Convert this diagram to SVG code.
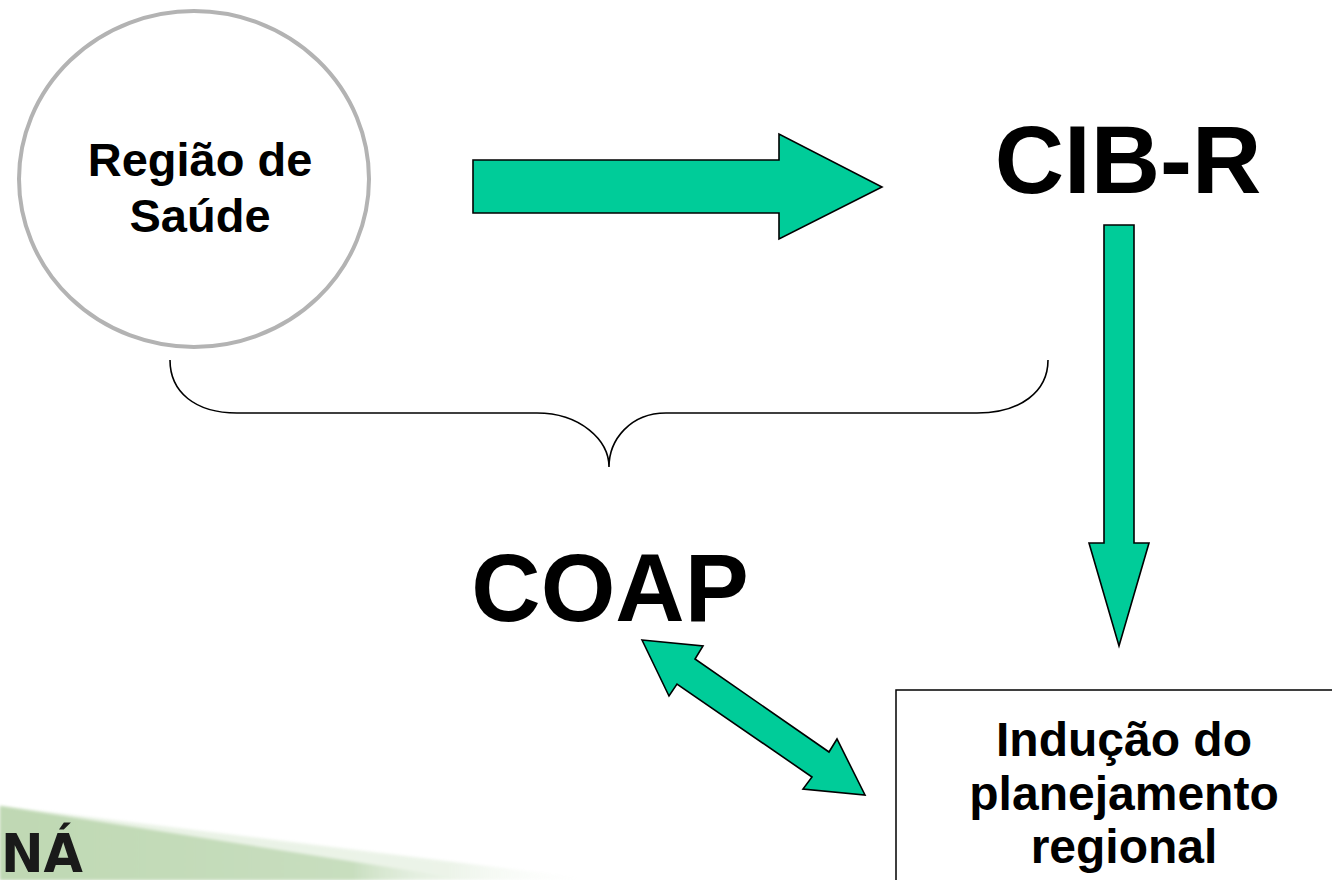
<svg xmlns="http://www.w3.org/2000/svg" width="1332" height="880" viewBox="0 0 1332 880">
<defs>
<style>
.arrow{fill:#00cc99;stroke:#000;stroke-width:1.6;stroke-linejoin:miter}
.t{font-family:"Liberation Sans",Arial,sans-serif;font-weight:bold;fill:#000;text-anchor:middle}
</style>
<linearGradient id="band" x1="0" y1="0" x2="1" y2="0">
<stop offset="0" stop-color="#bfd8b3"/>
<stop offset="0.75" stop-color="#c9dfc0"/>
<stop offset="1" stop-color="#ffffff" stop-opacity="0"/>
</linearGradient>
<filter id="soft" x="-5%" y="-20%" width="110%" height="140%"><feGaussianBlur stdDeviation="1.5"/></filter>
</defs>
<rect width="1332" height="880" fill="#fff"/>
<g id="logo">
<polygon points="0,806 470,880 0,880" fill="url(#band)" filter="url(#soft)"/>
<polygon points="0,806 600,880 0,880" fill="url(#band)" opacity="0.35" filter="url(#soft)"/>
<text x="1" y="872" font-family="'DejaVu Sans Condensed','Liberation Sans',sans-serif" font-weight="bold" font-size="53" textLength="82" lengthAdjust="spacingAndGlyphs" fill="#1a1a1a">NÁ</text>
</g>
<g id="regiao">
<ellipse cx="194" cy="179" rx="175" ry="168" fill="#fff" stroke="#b3b3b3" stroke-width="4"/>
<text class="t" x="200" y="176" font-size="47">Região de</text>
<text class="t" x="200" y="232" font-size="47">Saúde</text>
</g>
<g id="cibr">
<text class="t" x="1128" y="193" font-size="96">CIB-R</text>
</g>
<g id="coap">
<text class="t" x="610" y="621" font-size="96">COAP</text>
</g>
<g id="inducao">
<rect x="896" y="690" width="500" height="250" fill="#fff" stroke="#000" stroke-width="1.5"/>
<text class="t" x="1124" y="756" font-size="48">Indução do</text>
<text class="t" x="1124" y="810" font-size="48">planejamento</text>
<text class="t" x="1124" y="863" font-size="48">regional</text>
</g>
<g id="connectors">
<polygon class="arrow" points="473,160 779,160 779,134 882,187 779,239 779,213 473,213"/>
<polygon class="arrow" points="1104,225 1134,225 1134,543 1149,543 1119,646 1089,543 1104,543"/>
<polygon class="arrow" points="642,640 703,646 695,659 829,752 837,739 865,795 803,789 812,777 677,684 669,696"/>
<path d="M170,360 C170,392 195,413 237,413 L537,413 C580,413 609,440 609,467 C609,440 630,413 666,413 L977,413 C1020,413 1048,392 1048,360" fill="none" stroke="#000" stroke-width="1.6"/>
</g>
</svg>
